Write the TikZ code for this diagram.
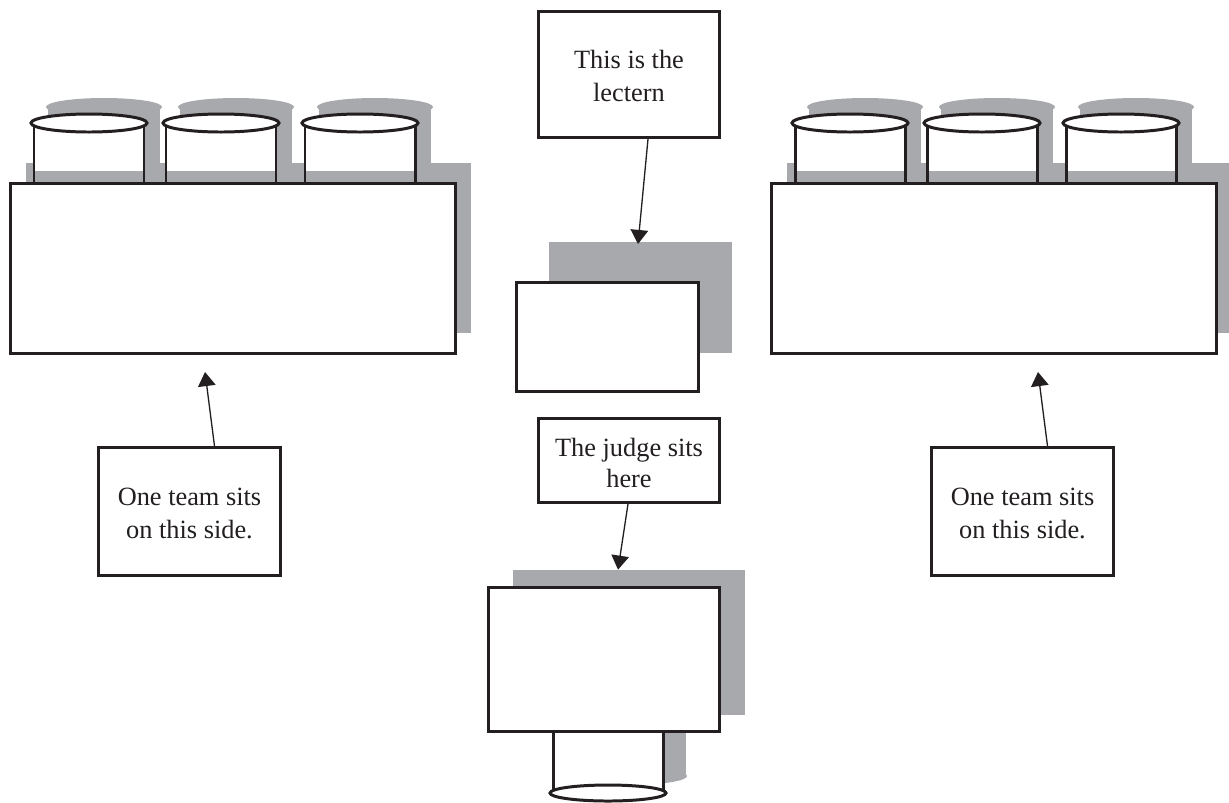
\documentclass[tikz,border=0pt]{standalone}
\usepackage{fontspec}
\setmainfont{Liberation Serif}
\usetikzlibrary{arrows.meta}
\definecolor{shadowgray}{HTML}{A7A9AC}
\definecolor{ink}{HTML}{231F20}
\newcommand{\toproom}[1]{\rule{0pt}{#1}}
\tikzset{
    labelbox/.style={draw=ink,fill=white,line width=1.7pt,inner sep=0pt,align=center,text=ink,
        font=\fontsize{15}{18.7}\selectfont},
    bench/.style={draw=ink,fill=white,line width=1.7pt,inner sep=0pt},
    shadowbox/.style={fill=shadowgray,inner sep=0pt},
    pointer/.style={-{Triangle[length=8pt,width=10pt]},draw=ink,line width=0.75pt},
}
\begin{document}
\begin{tikzpicture}[x=0.02cm,y=-0.02cm]
    \useasboundingbox (0,0) rectangle (1229,802);
    % Team tables
    \foreach \s/\l/\n in {0/0/left,761/72/right}{
        \begin{scope}[xshift=\s*0.02cm]
            % Shadows
            \node[shadowbox,minimum width=8.9cm,minimum height=3.4cm] (\n shadow) at (248.5,248) {};
            \foreach \c/\i in {89/a,221/b,360/c}{
                \fill[shadowgray] (\c+15,107) ellipse (58 and 9);
                \fill[shadowgray] (\c-41,107) rectangle (\c+71,170);
            }
            % Chairs
            \foreach \c/\i in {89/a,221/b,360/c}{
                \fill[white] (\c-55,123) rectangle (\c+55,171);
                \draw[ink,line width=1.7pt] (\c-55,123) -- (\c-55,183);
                \draw[ink,line width=1.7pt] (\c+55,123) -- (\c+55,183);
                \draw[ink,fill=white,line width=1.7pt] (\c,123) ellipse (58 and 9);
            }
            % Table
            \node[bench,minimum width=8.9cm,minimum height=3.4cm] (\n table) at (233,268.5) {};
            % Label
            \node[labelbox,minimum width=3.64cm,minimum height=2.56cm] (\n team) at (189.5+\l,511.5) {\toproom{12pt}One team sits\\on this side.};
            \coordinate (\n tip) at (205+\l,372);
            \draw[pointer] ([xshift=0.5cm]\n team.north) -- (\n tip);
        \end{scope}
    }
    % Lectern
    \node[shadowbox,minimum width=3.66cm,minimum height=2.22cm] (lecternshadow) at (640.5,297.5) {};
    \node[bench,minimum width=3.64cm,minimum height=2.18cm] (lectern) at (607.5,337) {};
    \node[labelbox,minimum width=3.62cm,minimum height=2.52cm] (lecternlabel) at (629,74.5) {\toproom{12.4pt}This is the\\lectern};
    \coordinate (lecterntip) at (638,244);
    \draw[pointer] ([xshift=0.38cm]lecternlabel.south) -- (lecterntip);
    % Judge
    \node[shadowbox,minimum width=4.64cm,minimum height=2.9cm] (judgeshadow) at (629,642.5) {};
    \fill[shadowgray] (628,776) ellipse (59 and 9);
    \fill[shadowgray] (600,732) rectangle (686,776);
    \fill[white] (553,732) rectangle (663,793);
    \draw[ink,line width=1.7pt] (553,732) -- (553,793);
    \draw[ink,line width=1.7pt] (663,732) -- (663,793);
    \draw[ink,fill=white,line width=1.7pt] (608,793) ellipse (58 and 8);
    \node[bench,minimum width=4.62cm,minimum height=2.88cm] (judge) at (604,659.5) {};
    \node[labelbox,minimum width=3.62cm,minimum height=1.68cm] (judgelabel) at (629,460.5) {\toproom{13.6pt}The judge sits\\[-1pt]here};
    \draw[pointer] ([xshift=-0.02cm]judgelabel.south) -- ([xshift=-0.22cm]judgeshadow.north);
\end{tikzpicture}
\end{document}
